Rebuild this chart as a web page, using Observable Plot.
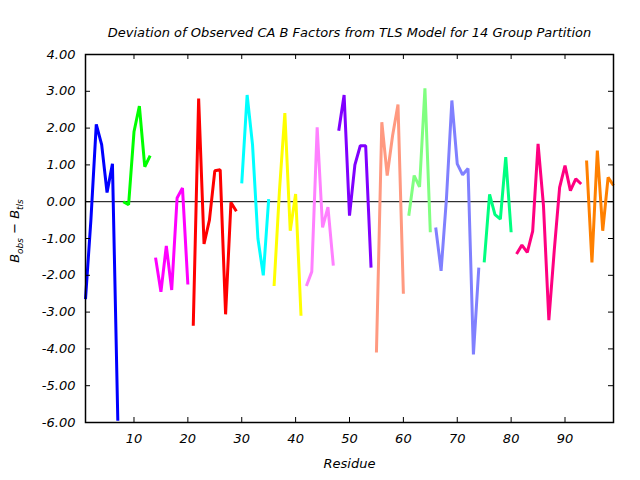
<!DOCTYPE html>
<html>
<head>
<meta charset="utf-8">
<script src="https://cdn.jsdelivr.net/npm/d3@7"></script>
<script src="https://cdn.jsdelivr.net/npm/@observablehq/plot@0.6"></script>
<style>
  html, body { margin: 0; padding: 0; background: #fff; }
</style>
</head>
<body>
<div id="chart"></div>
<script>
// ---- Data ----
const titleText = "Deviation of Observed CA B Factors from TLS Model for 14 Group Partition";
const xLabel = "Residue";
const xTicks = [10, 20, 30, 40, 50, 60, 70, 80, 90];
const yTicks = [-6, -5, -4, -3, -2, -1, 0, 1, 2, 3, 4];

// first residue of each TLS group
const groupStart = [1, 8, 14, 21, 30, 36, 42, 48, 55, 61, 66, 75, 81, 94];
const groupColors = ["#0000ff", "#00ff00", "#ff00ff", "#ff0000", "#00ffff", "#ffff00", "#ff80ff",
                     "#8000ff", "#ff9980", "#80ff80", "#8080ff", "#00ff80", "#ff0080", "#ff8000"];

// B_obs - B_tls per residue, one array per group
const g01 = [-2.65, -0.5, 2.1, 1.55, 0.25, 1.03, -5.95];
const g02 = [0.0, -0.08, 1.9, 2.6, 0.95, 1.25];
const g03 = [-1.52, -2.45, -1.2, -2.4, 0.1, 0.37, -2.25];
const g04 = [-3.37, 2.8, -1.15, -0.5, 0.84, 0.87, -3.06, -0.02, -0.26];
const g05 = [0.5, 2.9, 1.55, -1.0, -2.0, 0.07];
const g06 = [-2.29, 0.3, 2.41, -0.79, 0.21, -3.1];
const g07 = [-2.29, -1.9, 2.02, -0.7, -0.15, -1.74];
const g08 = [1.93, 2.9, -0.38, 1.0, 1.52, 1.52, -1.79];
const g09 = [-4.1, 2.16, 0.71, 1.8, 2.64, -2.5];
const g10 = [-0.38, 0.71, 0.4, 3.08, -0.83];
const g11 = [-0.7, -1.88, 0.1, 2.75, 1.03, 0.73, 0.9, -4.15, -1.79];
const g12 = [-1.65, 0.2, -0.35, -0.47, 1.21, -0.83];
const g13 = [-1.42, -1.18, -1.38, -0.8, 1.57, -0.1, -3.22, -1.33, 0.39, 0.98, 0.3, 0.62, 0.48];
const g14 = [1.12, -1.65, 1.39, -0.79, 0.66, 0.44];

const groups = [g01, g02, g03, g04, g05, g06, g07, g08, g09, g10, g11, g12, g13, g14];

// build the table Plot needs
const rows = [];
groups.forEach((vals, gi) => {
  vals.forEach((v, i) => rows.push({group: gi, residue: groupStart[gi] + i, dev: v}));
});

const font = "'DejaVu Sans', sans-serif";

const chart = Plot.plot({
  width: 640,
  height: 480,
  marginLeft: 85,
  marginRight: 27,
  marginTop: 54,
  marginBottom: 58,
  style: {fontFamily: font, fontSize: "13px", fontStyle: "italic", background: "#fff", color: "#000"},
  x: {domain: [1, 99], label: null},
  y: {domain: [-6, 4], label: null},
  color: {domain: d3.range(groups.length), range: groupColors},
  marks: [
    Plot.ruleY([0], {stroke: "#000", strokeWidth: 1}),
    Plot.lineY(rows, {x: "residue", y: "dev", z: "group", stroke: "group", strokeWidth: 3, strokeLinejoin: "miter", strokeLinecap: "butt"}),
    // inward ticks
    Plot.tickX(xTicks, {x: d => d, insetTop: 363, stroke: "#000"}),
    Plot.tickX(xTicks, {x: d => d, insetBottom: 363, stroke: "#000"}),
    Plot.tickY(yTicks, {y: d => d, insetRight: 523, stroke: "#000"}),
    Plot.tickY(yTicks, {y: d => d, insetLeft: 523, stroke: "#000"}),
    Plot.frame({stroke: "#000", strokeWidth: 1.5}),
    Plot.axisX(xTicks, {tickSize: 0, tickPadding: 11, tickFormat: d => String(d), label: null, fontSize: 13}),
    Plot.axisY(yTicks, {tickSize: 0, tickPadding: 10, tickFormat: d => d.toFixed(2), label: null, fontSize: 13}),
    Plot.text([titleText], {frameAnchor: "top", dy: -27, fontSize: 13, fontStyle: "italic"}),
    Plot.text([xLabel], {frameAnchor: "bottom", dy: 45, fontSize: 13, fontStyle: "italic"})
  ]
});

// y-axis label with subscripts
const svg = d3.select(chart);
const yl = svg.append("text")
  .attr("transform", "translate(19,231) rotate(-90)")
  .attr("text-anchor", "middle")
  .attr("font-family", font)
  .attr("font-style", "italic")
  .attr("font-size", 13)
  .attr("fill", "#000");
yl.append("tspan").text("B");
yl.append("tspan").attr("font-size", 9).attr("dy", 4).text("obs");
yl.append("tspan").attr("dy", -4).text(" \u2212 B");
yl.append("tspan").attr("font-size", 9).attr("dy", 4).text("tls");

document.getElementById("chart").appendChild(chart);
</script>
</body>
</html>
